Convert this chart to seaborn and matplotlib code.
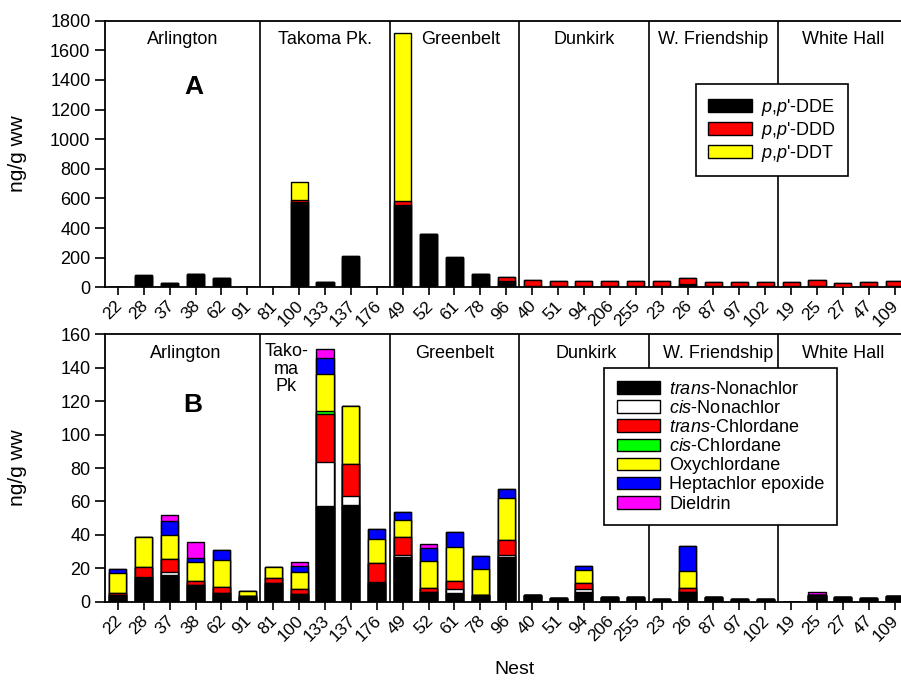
import numpy as np
import pandas as pd
import matplotlib
matplotlib.use('Agg')
import matplotlib.pyplot as plt
import matplotlib.transforms as mtransforms
import seaborn as sns
from matplotlib.patches import Patch

sns.set_style('ticks')
plt.rcParams['font.family'] = ['Liberation Sans', 'DejaVu Sans']
plt.rcParams['mathtext.fontset'] = 'custom'
plt.rcParams['mathtext.rm'] = 'Liberation Sans'
plt.rcParams['mathtext.it'] = 'Liberation Sans:italic'
plt.rcParams['text.color'] = 'black'
plt.rcParams['axes.labelcolor'] = 'black'
plt.rcParams['xtick.color'] = 'black'
plt.rcParams['ytick.color'] = 'black'

# --- data -----------------------------------------------------------------
nests = ['22', '28', '37', '38', '62', '91',
         '81', '100', '133', '137', '176',
         '49', '52', '61', '78', '96',
         '40', '51', '94', '206', '255',
         '23', '26', '87', '97', '102',
         '19', '25', '27', '47', '109']

sites = ['Arlington', 'Takoma Pk.', 'Greenbelt', 'Dunkirk', 'W. Friendship', 'White Hall']
site_sizes = [6, 5, 5, 5, 5, 5]

# panel A: DDT and metabolites (ng/g ww)
dde = [0, 78, 27, 87, 62, 0,
       0, 576, 36, 207, 0,
       555, 358, 198, 87, 40,
       8, 6, 6, 6, 6,
       8, 22, 6, 6, 6,
       6, 10, 5, 6, 7]
ddd = [0, 3, 2, 3, 3, 0,
       0, 12, 2, 4, 0,
       28, 5, 4, 3, 28,
       38, 34, 34, 34, 33,
       34, 40, 30, 30, 30,
       30, 40, 27, 30, 34]
ddt = [0, 0, 0, 0, 0, 0,
       0, 123, 0, 0, 0,
       1131, 0, 0, 0, 0,
       0, 0, 0, 0, 0,
       0, 0, 0, 0, 0,
       0, 0, 0, 0, 0]

# panel B: chlordanes and dieldrin (ng/g ww)
trans_nonachlor = [4, 14, 16, 10, 5, 3.4,
                   11, 4.6, 57.4, 58, 11,
                   26.6, 6, 5.4, 4, 27,
                   4, 2, 6, 3, 2.6,
                   1.4, 6, 3, 1.8, 1.8,
                   0, 4, 3, 2.4, 3.4]
cis_nonachlor = [0, 1, 2, 0, 0, 0,
                 0, 0, 26, 5.4, 1,
                 1.4, 0, 2, 0, 1,
                 0, 0, 1.4, 0, 0,
                 0, 0, 0, 0, 0,
                 0, 0, 0, 0, 0]
trans_chlordane = [1.5, 6, 7.4, 2.4, 4, 0,
                   3.4, 2.8, 29, 19.2, 11,
                   11, 2, 5, 0, 9,
                   0, 0, 4, 0, 0,
                   0, 2, 0, 0, 0,
                   0, 0, 0, 0, 0]
cis_chlordane = [0, 0, 0, 0, 0, 0,
                 0, 0, 2, 0, 0,
                 0, 0, 0, 0, 0,
                 0, 0, 0, 0, 0,
                 0, 0, 0, 0, 0,
                 0, 0, 0, 0, 0]
oxychlordane = [11.5, 17.6, 14.6, 11.2, 16, 3,
                6.6, 10.6, 22, 34.8, 14.6,
                10, 16.6, 20.6, 15.4, 25,
                0, 0, 7.6, 0, 0,
                0, 10.6, 0, 0, 0,
                0, 0, 0, 0, 0]
heptachlor_epoxide = [2.4, 0, 8.6, 2.8, 6, 0,
                      0, 3.6, 9.6, 0, 5.8,
                      4.6, 7.8, 8.6, 8.2, 5.6,
                      0, 0, 2.4, 0, 0,
                      0, 14.8, 0, 0, 0,
                      0, 0, 0, 0, 0]
dieldrin = [0, 0, 3.4, 9.6, 0, 0,
            0, 2, 5.4, 0, 0,
            0, 2.2, 0, 0, 0,
            0, 0, 0, 0, 0,
            0, 0, 0, 0, 0,
            0, 2, 0, 0, 0]

pp = r'$\mathit{p{,}p}$'
labels_a = [pp + "'-DDE", pp + "'-DDD", pp + "'-DDT"]
colors_a = ['#000000', '#ff0000', '#ffff00']
labels_b = [r'$\mathit{trans}$-Nonachlor', r'$\mathit{cis}$-Nonachlor', r'$\mathit{trans}$-Chlordane',
            r'$\mathit{cis}$-Chlordane', 'Oxychlordane', 'Heptachlor epoxide', 'Dieldrin']
colors_b = ['#000000', '#ffffff', '#ff0000', '#00ff00', '#ffff00', '#0000ff', '#ff00ff']

df_a = pd.DataFrame({'DDE': dde, 'DDD': ddd, 'DDT': ddt}, index=nests)
df_b = pd.DataFrame({'tN': trans_nonachlor, 'cN': cis_nonachlor, 'tC': trans_chlordane,
                     'cC': cis_chlordane, 'Oxy': oxychlordane, 'Hep': heptachlor_epoxide,
                     'Diel': dieldrin}, index=nests)

FS = 13

fig = plt.figure(figsize=(9.01, 6.83), dpi=100)
ax_a = fig.add_axes([0.1165, 0.5794, 0.8908, 0.3903])
ax_b = fig.add_axes([0.1165, 0.1190, 0.8908, 0.3915])


def stacked(ax, df, colors):
    cum = df.cumsum(axis=1)
    # draw from the top layer down so lower layers overlap the upper totals
    for col, c in reversed(list(zip(df.columns, colors))):
        sns.barplot(x=nests, y=cum[col].values, order=nests, color=c, saturation=1,
                    edgecolor='black', linewidth=1.0, width=0.66, errorbar=None, ax=ax,
                    zorder=3)


def dress(ax, ymax, ystep, site_labels):
    ax.set_xlim(-0.5, len(nests) - 0.5)
    ax.set_ylim(0, ymax)
    ax.set_yticks(np.arange(0, ymax + 1, ystep))
    ax.tick_params(axis='y', labelsize=FS, length=7, width=1.2, direction='out')
    ax.tick_params(axis='x', labelsize=12.5, length=6, width=1.2, direction='out', pad=2)
    ax.set_xticks(range(len(nests)))
    ax.set_xticklabels(nests, rotation=45, ha='right', rotation_mode='anchor')
    shift = mtransforms.ScaledTranslation(-0.035, 0, fig.dpi_scale_trans)
    for lab in ax.get_xticklabels():
        lab.set_transform(lab.get_transform() + shift)
    for sp in ax.spines.values():
        sp.set_linewidth(1.3)
        sp.set_color('black')
    ax.set_xlabel('')
    ax.set_ylabel('ng/g ww', fontsize=15)
    ax.yaxis.set_label_coords(-0.097, 0.5)
    edges = np.cumsum(site_sizes)[:-1] - 0.5
    for e in edges:
        ax.axvline(e, color='black', lw=1.2, zorder=2)
    for name, s, n, dx in site_labels:
        if name is None:
            continue
        ax.text(s + (n - 1) / 2 + dx, 0.93, name, transform=ax.get_xaxis_transform(),
                ha='center', va='center', fontsize=FS, zorder=4)


stacked(ax_a, df_a, colors_a)
starts = np.concatenate([[0], np.cumsum(site_sizes)[:-1]])
dress(ax_a, 1800, 200,
      [(name, s, n, dx) for name, s, n, dx in zip(sites, starts, site_sizes, [0, 0, 0.25, 0, 0, 0])])
ax_a.text(2.95, 0.75, 'A', transform=ax_a.get_xaxis_transform(), fontsize=19,
          fontweight='bold', ha='center', va='center')
leg_a = ax_a.legend(handles=[Patch(facecolor=c, edgecolor='black', linewidth=1.0, label=l)
                             for c, l in zip(colors_a, labels_a)],
                    loc='upper left', bbox_to_anchor=(0.736, 0.763), fontsize=FS,
                    frameon=True, fancybox=False, framealpha=1, edgecolor='black',
                    borderpad=0.7, labelspacing=0.12, handlelength=2.4, handleheight=0.7,
                    handletextpad=0.5, borderaxespad=0)
leg_a.get_frame().set_linewidth(1.2)
leg_a.set_zorder(10)

stacked(ax_b, df_b, colors_b)
b_sites = [('Arlington', 0, 6, 0.1), (None, 6, 5, 0), ('Greenbelt', 11, 5, 0.0),
           ('Dunkirk', 16, 5, 0.1), ('W. Friendship', 21, 5, 0.2), ('White Hall', 26, 5, 0)]
dress(ax_b, 160, 20, b_sites)
ax_b.text(6.5, 0.87, 'Tako-\nma\nPk', transform=ax_b.get_xaxis_transform(),
          ha='center', va='center', multialignment='center', fontsize=FS,
          linespacing=1.05, zorder=4)
ax_b.text(2.88, 0.735, 'B', transform=ax_b.get_xaxis_transform(), fontsize=19,
          fontweight='bold', ha='center', va='center')
leg_b = ax_b.legend(handles=[Patch(facecolor=c, edgecolor='black', linewidth=1.0, label=l)
                             for c, l in zip(colors_b, labels_b)],
                    loc='upper left', bbox_to_anchor=(0.622, 0.874), fontsize=FS,
                    frameon=True, fancybox=False, framealpha=1, edgecolor='black',
                    borderpad=0.7, labelspacing=0.12, handlelength=2.4, handleheight=0.7,
                    handletextpad=0.5, borderaxespad=0)
leg_b.get_frame().set_linewidth(1.2)
leg_b.set_zorder(10)

fig.text(515 / 901, 1 - 670 / 683, 'Nest', fontsize=14, ha='center', va='center')

fig.savefig('out.png', dpi=100)
